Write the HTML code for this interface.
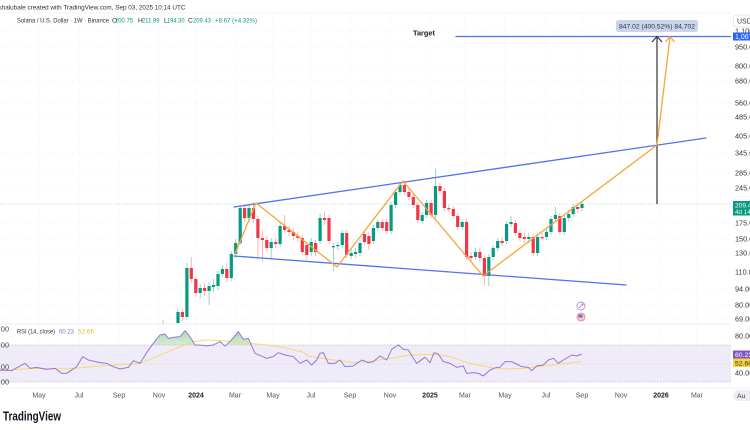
<!DOCTYPE html>
<html><head><meta charset="utf-8"><style>
html,body{margin:0;padding:0;background:#fff;width:750px;height:430px;overflow:hidden}
svg{display:block;font-family:"Liberation Sans",Arial,sans-serif}
</style></head><body>
<svg width="750" height="430" viewBox="0 0 750 430" xmlns="http://www.w3.org/2000/svg">
<defs>
<clipPath id="main"><rect x="0" y="13" width="731" height="311"/></clipPath>
<clipPath id="ob"><rect x="0" y="300" width="731" height="45"/></clipPath>
<linearGradient id="gg" x1="0" y1="0" x2="0" y2="1"><stop offset="0" stop-color="#4caf50" stop-opacity="0.45"/><stop offset="1" stop-color="#4caf50" stop-opacity="0.06"/></linearGradient>
</defs>
<rect width="750" height="430" fill="#fff"/>

<!-- header -->
<text x="-1.5" y="9.5" font-size="6.6" fill="#333" textLength="187" lengthAdjust="spacingAndGlyphs">shalubale created with TradingView.com, Sep 03, 2025 10:14 UTC</text>
<line x1="0" y1="13" x2="731" y2="13" stroke="#eceef2" stroke-width="0.6"/>

<!-- grid -->
<g stroke="#eef0f3" stroke-width="0.6" stroke-dasharray="1.5 1.5" fill="none">
<path d="M39 13V388M79 13V388M119 13V388M159 13V388M196 13V388M235 13V388M273 13V388M311 13V388M350 13V388M390 13V388M430 13V388M465 13V388M505 13V388M546 13V388M582 13V388M621 13V388M661 13V388M697 13V388"/>
<path d="M0 31H731M0 47H731M0 66H731M0 81H731M0 103H731M0 117H731M0 136H731M0 153H731M0 173H731M0 188H731M0 223H731M0 239H731M0 253H731M0 272H731M0 289H731M0 305H731M0 319H731M0 336H731M0 373H731"/>
</g>

<!-- legend line 2 -->
<g font-size="6.6">
<text x="17" y="22.5" fill="#333" textLength="92" lengthAdjust="spacingAndGlyphs">Solana / U.S. Dollar · 1W · Binance</text>
<text x="112" y="22.5" fill="#333">O</text><text x="115" y="22.5" fill="#089981" textLength="18" lengthAdjust="spacingAndGlyphs">200.75</text>
<text x="138" y="22.5" fill="#333">H</text><text x="142" y="22.5" fill="#089981" textLength="17.5" lengthAdjust="spacingAndGlyphs">211.99</text>
<text x="164" y="22.5" fill="#333">L</text><text x="167" y="22.5" fill="#089981" textLength="17.5" lengthAdjust="spacingAndGlyphs">194.30</text>
<text x="188" y="22.5" fill="#333">C</text><text x="193" y="22.5" fill="#089981" textLength="18" lengthAdjust="spacingAndGlyphs">209.43</text>
<text x="215" y="22.5" fill="#089981" textLength="42" lengthAdjust="spacingAndGlyphs">+8.67 (+4.32%)</text>
</g>

<!-- current price line -->
<line x1="0" y1="204" x2="731" y2="204" stroke="#089981" stroke-opacity="0.35" stroke-width="0.7" stroke-dasharray="1.2 1.5"/>

<g clip-path="url(#main)">
<!-- wicks -->
<path stroke="#089981" stroke-opacity="0.45" stroke-width="0.9" fill="none" d="M163 320V325M178 309V325M186.9 263V320M200.2 284V299M209.1 282V305M213.5 279V292M218 271V290M222.4 265V277M231.3 251V281M235.7 239V258M240.2 205V245M249 205V222M271.2 238V258M280.1 222V247M311.2 238V256M320.1 214V244M333.4 243V271M337.8 242V250M342.3 230V248M351.2 249V259M355.6 248V258M360 240V256M373.4 225V244M377.8 219V231M391.1 202V234M395.6 189V208M400 182V195M422.2 212V224M426.6 200V218M435.5 169V218M462.2 219V230M475.5 248V260M488.8 254V286M493.2 245V260M497.7 238V251M506.6 221V244M511 216V227M528.8 233V243M537.6 234V256M546.5 229V240M551 216V235M555.4 207V222M564.3 215V235M568.7 210V221M573.2 204V217M582 202V211"/>
<path stroke="#f23645" stroke-opacity="0.4" stroke-width="0.9" fill="none" d="M182.4 308V321M191.3 257V283M195.8 276V297M204.6 283V296M226.8 263V282M244.6 205V222M253.5 202V223M257.9 216V260M262.4 230V262M266.8 236V252M275.7 238V248M284.6 215V233M289 226V236M293.4 228V240M297.9 232V242M302.3 235V255M306.8 242V260M315.6 240V256M324.5 212V225M329 215V244M346.7 230V258M364.5 231V245M368.9 232V250M382.2 219V231M386.7 219V234M404.4 181V195M408.9 189V200M413.3 194V208M417.8 202V223M431.1 200V218M440 183V194M444.4 188V211M448.8 205V212M453.3 206V219M457.7 213V230M466.6 219V260M471 252V262M479.9 248V262M484.4 255V285M502.1 237V246M515.4 220V236M519.9 230V241M524.3 233V243M533.2 234V256M542.1 233V241M559.8 213V235M577.6 203V213"/>
<!-- bodies -->
<path fill="#089981" d="M176.4 312h3.2v11h-3.2zM185.3 268h3.2v49h-3.2zM198.6 288h3.2v5h-3.2zM207.5 286h3.2v5h-3.2zM211.9 285h3.2v2h-3.2zM216.4 274h3.2v12h-3.2zM220.8 269h3.2v5h-3.2zM229.7 254h3.2v24h-3.2zM234.1 243h3.2v11h-3.2zM238.6 208h3.2v35h-3.2zM247.4 208h3.2v10h-3.2zM269.6 242h3.2v6h-3.2zM278.5 226h3.2v18h-3.2zM309.6 242h3.2v10h-3.2zM318.5 218h3.2v23h-3.2zM331.8 246h3.2v1.2h-3.2zM336.2 245h3.2v1.2h-3.2zM340.7 233h3.2v12h-3.2zM349.6 253h3.2v3h-3.2zM354 252h3.2v2h-3.2zM358.4 243h3.2v10h-3.2zM371.8 228h3.2v13h-3.2zM376.2 222h3.2v6h-3.2zM389.5 205h3.2v26h-3.2zM394 192h3.2v13h-3.2zM398.4 185h3.2v7h-3.2zM420.6 215h3.2v6h-3.2zM425 203h3.2v12h-3.2zM433.9 186h3.2v29h-3.2zM460.6 222h3.2v5h-3.2zM473.9 252h3.2v5h-3.2zM487.2 257h3.2v19h-3.2zM491.6 248h3.2v9h-3.2zM496.1 241h3.2v7h-3.2zM505 224h3.2v17h-3.2zM509.4 222h3.2v2h-3.2zM527.2 237h3.2v2h-3.2zM536 237h3.2v16h-3.2zM544.9 232h3.2v5h-3.2zM549.4 219h3.2v13h-3.2zM553.8 215h3.2v4h-3.2zM562.7 218h3.2v14h-3.2zM567.1 214h3.2v4h-3.2zM571.6 207h3.2v7h-3.2zM580.4 204h3.2v4h-3.2z"/>
<path fill="#f23645" d="M180.8 312h3.2v5h-3.2zM189.7 268h3.2v11h-3.2zM194.2 279h3.2v14h-3.2zM203 288h3.2v3h-3.2zM225.2 269h3.2v9h-3.2zM243 208h3.2v10h-3.2zM251.9 208h3.2v11h-3.2zM256.3 219h3.2v19h-3.2zM260.8 238h3.2v2h-3.2zM265.2 240h3.2v8h-3.2zM274.1 242h3.2v2h-3.2zM283 226h3.2v4h-3.2zM287.4 230h3.2v2h-3.2zM291.8 232h3.2v4h-3.2zM296.3 236h3.2v2h-3.2zM300.7 238h3.2v14h-3.2zM305.2 245h3.2v10h-3.2zM314 243h3.2v9h-3.2zM322.9 218h3.2v2h-3.2zM327.4 218h3.2v23h-3.2zM345.1 233h3.2v22h-3.2zM362.9 234h3.2v8h-3.2zM367.3 236h3.2v8h-3.2zM380.6 222h3.2v6h-3.2zM385.1 222h3.2v9h-3.2zM402.8 185h3.2v7h-3.2zM407.3 192h3.2v5h-3.2zM411.7 197h3.2v8h-3.2zM416.2 205h3.2v15h-3.2zM429.5 203h3.2v12h-3.2zM438.4 186h3.2v5h-3.2zM442.8 191h3.2v17h-3.2zM447.2 208h3.2v1.2h-3.2zM451.7 209h3.2v7h-3.2zM456.1 216h3.2v11h-3.2zM465 222h3.2v35h-3.2zM469.4 256h3.2v2h-3.2zM478.3 252h3.2v6h-3.2zM482.8 258h3.2v18h-3.2zM500.5 241h3.2v2h-3.2zM513.8 223h3.2v10h-3.2zM518.3 233h3.2v5h-3.2zM522.7 237h3.2v2h-3.2zM531.6 237h3.2v16h-3.2zM540.5 237h3.2v1.2h-3.2zM558.2 216h3.2v16h-3.2zM576 207h3.2v2h-3.2z"/>

<!-- channel lines -->
<g stroke="#4f72f2" stroke-width="1.3" fill="none" stroke-linecap="round">
<line x1="234" y1="207" x2="706" y2="138"/>
<line x1="234" y1="256" x2="626" y2="285"/>
<line x1="456" y1="36.5" x2="731" y2="36.5"/>
</g>
<!-- black arrow -->
<g stroke="#333" stroke-width="1.2" fill="none">
<line x1="657" y1="204" x2="657" y2="37"/>
<polyline points="652,42 657,36.5 662,42"/>
</g>
<!-- orange zigzag -->
<g stroke="#f7a43a" stroke-width="1.3" fill="none" stroke-linejoin="round">
<polyline points="235,254 256,203 337,267 403,181 483,276 657,145 670,37"/>
<polyline points="665.5,42 670,36.5 674.5,42"/>
</g>
</g>

<!-- Target text -->
<text x="413" y="35.5" font-size="7.3" font-weight="bold" fill="#222" textLength="22" lengthAdjust="spacingAndGlyphs">Target</text>
<!-- measure label -->
<rect x="616" y="20" width="82" height="12" rx="2.5" fill="#c8d5ec"/>
<text x="657" y="28.6" font-size="6.8" fill="#333" text-anchor="middle" textLength="76" lengthAdjust="spacingAndGlyphs">847.02 (400.52%) 84,702</text>

<!-- icons -->
<circle cx="581" cy="306" r="4" fill="#fff" stroke="#b48fe0" stroke-width="0.9"/>
<path d="M579 308l4-4M581.5 304h1.5v1.5" stroke="#9c6ad6" stroke-width="0.8" fill="none"/>
<circle cx="581" cy="317" r="4" fill="#f7c6c6" stroke="#f08080" stroke-width="0.8"/>
<rect x="578.5" y="314.5" width="4" height="3" fill="#4a7be0"/>

<!-- pane separators -->
<line x1="0" y1="324" x2="731" y2="324" stroke="#e6e8ee" stroke-width="0.7"/>
<line x1="0" y1="388" x2="750" y2="388" stroke="#eceef2" stroke-width="0.7"/>

<!-- RSI pane -->
<rect x="0" y="345" width="731" height="37" fill="#efebf8"/>
<g stroke="#a8a8b8" stroke-width="0.6" stroke-dasharray="1.5 1.5">
<line x1="0" y1="345" x2="731" y2="345"/>
<line x1="0" y1="364" x2="731" y2="364" stroke="#c8c8d4"/>
<line x1="0" y1="382" x2="731" y2="382"/>
</g>
<g clip-path="url(#ob)">
<polygon transform="translate(0,310) scale(0.33333)" fill="url(#gg)" points="430,140 440,128 460,100 480,75 495,72 505,85 520,82 540,80 555,62 570,80 585,105 600,105 600,140"/>
<polygon transform="translate(0,310) scale(0.33333)" fill="url(#gg)" points="680,110 690,95 715,65 730,88 745,85 765,130 765,140 680,140"/>
</g>
<g fill="none" stroke-width="1" stroke-linejoin="round">
<polyline vector-effect="non-scaling-stroke" transform="translate(0,310) scale(0.33333)" stroke="#f7d96b" points="0,182 100,175 200,177 300,168 420,160 470,140 540,110 580,95 620,90 660,92 700,96 750,100 800,105 850,112 900,125"/>
<polyline vector-effect="non-scaling-stroke" transform="translate(290,310) scale(0.33333)" stroke="#f7d96b" points="30,122 60,140 120,148 190,158 250,153 300,145 360,135 430,133 480,140 540,160 600,172 640,177 700,175 760,168 810,162 875,155"/>
<polyline vector-effect="non-scaling-stroke" transform="translate(0,310) scale(0.33333)" stroke="#9677d6" points="0,180 35,182 75,160 90,175 110,172 140,178 165,175 185,190 200,190 230,170 248,140 265,150 300,158 320,160 340,170 360,177 385,172 400,152 420,160 440,128 460,100 480,75 495,72 505,85 520,82 540,80 555,62 570,80 585,105 600,105 620,108 640,105 660,95 675,108 690,95 715,65 730,88 745,85 765,130 800,145 820,140 835,128 855,135 880,140 900,160"/>
<polyline vector-effect="non-scaling-stroke" transform="translate(290,310) scale(0.33333)" stroke="#9677d6" points="30,160 50,150 65,165 80,150 90,130 100,128 115,160 135,160 150,150 165,170 190,168 215,150 235,158 250,155 270,138 290,150 305,118 325,105 340,118 355,120 380,160 405,142 420,158 432,128 445,132 460,155 480,160 500,172 520,168 530,190 550,188 565,190 580,198 600,180 620,172 630,172 645,155 665,155 680,162 695,170 715,172 725,182 740,168 760,165 775,150 790,145 805,160 820,150 845,135 860,138 875,132"/>
</g>
<g font-size="6.6">
<text x="17" y="333.5" fill="#333" textLength="38" lengthAdjust="spacingAndGlyphs">RSI (14, close)</text>
<text x="59" y="333.5" fill="#8e6fd4" textLength="15" lengthAdjust="spacingAndGlyphs">60.23</text>
<text x="78" y="333.5" fill="#e8b923" textLength="16" lengthAdjust="spacingAndGlyphs">52.66</text>
</g>
<!-- left partial labels -->
<g font-size="7.3" fill="#444" text-anchor="end">
<text x="9" y="331.5">0.00</text>
<text x="9" y="347.5">0.00</text>
<text x="9" y="369.5">0.00</text>
<text x="9" y="384.5">0.00</text>
</g>

<!-- x axis labels -->
<g font-size="7" fill="#555" text-anchor="middle">
<text x="39" y="397.5">May</text>
<text x="79" y="397.5">Jul</text>
<text x="119" y="397.5">Sep</text>
<text x="159" y="397.5">Nov</text>
<text x="196" y="397.5" font-weight="bold" fill="#222">2024</text>
<text x="235" y="397.5">Mar</text>
<text x="273" y="397.5">May</text>
<text x="311" y="397.5">Jul</text>
<text x="350" y="397.5">Sep</text>
<text x="390" y="397.5">Nov</text>
<text x="430" y="397.5" font-weight="bold" fill="#222">2025</text>
<text x="465" y="397.5">Mar</text>
<text x="505" y="397.5">May</text>
<text x="546" y="397.5">Jul</text>
<text x="582" y="397.5">Sep</text>
<text x="621" y="397.5">Nov</text>
<text x="661" y="397.5" font-weight="bold" fill="#222">2026</text>
<text x="697" y="397.5">Mar</text>
</g>

<!-- right axis -->
<g font-size="7.3" fill="#333">
<text x="735" y="33.5">1,100</text>
<text x="735" y="49.5">950.0</text>
<text x="735" y="68.5">800.0</text>
<text x="735" y="83.5">680.0</text>
<text x="735" y="105.5">560.0</text>
<text x="735" y="119.5">485.0</text>
<text x="735" y="138.5">405.0</text>
<text x="735" y="155.5">345.0</text>
<text x="735" y="175.5">285.0</text>
<text x="735" y="190.5">245.0</text>
<text x="735" y="225.5">175.0</text>
<text x="735" y="241.5">150.0</text>
<text x="735" y="255.5">130.0</text>
<text x="735" y="274.5">110.0</text>
<text x="735" y="291.5">94.00</text>
<text x="735" y="307.5">80.00</text>
<text x="735" y="321.5">69.00</text>
<text x="735" y="338.5">80.00</text>
<text x="735" y="375.5">40.00</text>
</g>
<rect x="733.5" y="15" width="20" height="12" rx="3" fill="#fff" stroke="#dde0e6" stroke-width="0.7"/>
<text x="737" y="23.5" font-size="7" fill="#333">USD</text>
<rect x="733" y="32.5" width="18" height="8" fill="#2962ff"/>
<text x="735" y="39" font-size="7" fill="#fff">1,067</text>
<rect x="733" y="201" width="18" height="14.5" fill="#089981"/>
<text x="735" y="207.5" font-size="6.6" fill="#fff">209.43</text>
<text x="735" y="214" font-size="6.3" fill="#e6f5f1">4d 14h</text>
<rect x="733" y="350.5" width="18" height="8" fill="#7e57c2"/>
<text x="735" y="357" font-size="6.8" fill="#fff">60.23</text>
<rect x="733" y="358.5" width="18" height="8.5" fill="#f7d33c"/>
<text x="735" y="365.5" font-size="6.8" fill="#333">52.66</text>
<rect x="733" y="390" width="22" height="11" rx="5.5" fill="#eceef2"/>
<text x="737" y="398" font-size="6.8" fill="#333">Au</text>

<!-- logo -->
<text x="3" y="420.5" font-size="12.5" font-weight="bold" fill="#131722" textLength="58" lengthAdjust="spacingAndGlyphs">TradingView</text>
</svg>
</body></html>
